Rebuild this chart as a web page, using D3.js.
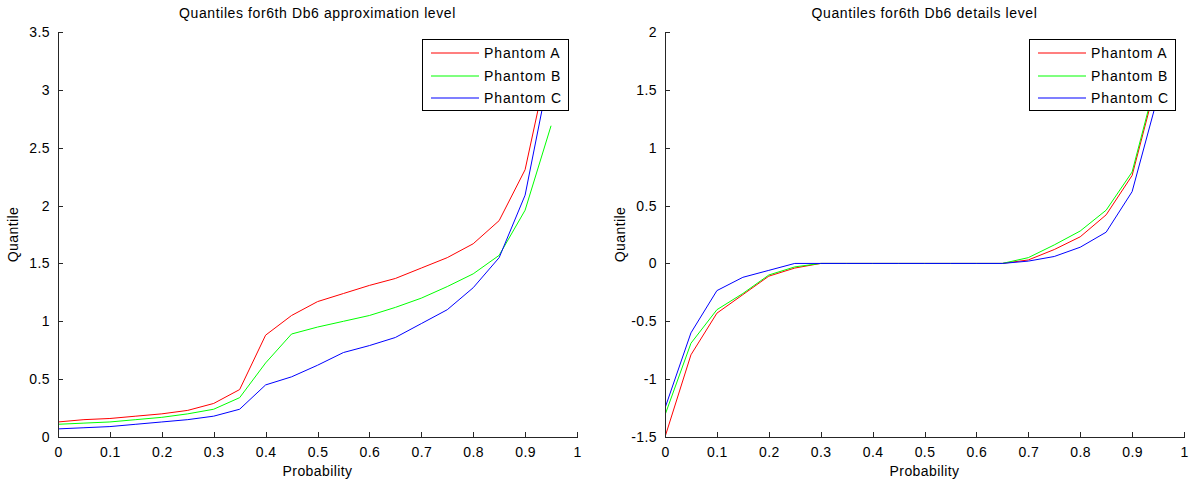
<!DOCTYPE html>
<html><head><meta charset="utf-8">
<script src="https://cdn.jsdelivr.net/npm/d3@7"></script>
<style>
body{margin:0;background:#fff;}
svg text{font-family:"Liberation Sans",Arial,Helvetica,sans-serif;fill:#000;}
</style></head><body>
<svg id="chart" width="1197" height="485"></svg>
<script>
const probability = [0,0.05,0.1,0.15,0.2,0.25,0.3,0.35,0.4,0.45,0.5,0.55,0.6,0.65,0.7,0.75,0.8,0.85,0.9,0.95];
const seriesNames = ["Phantom A","Phantom B","Phantom C"];
const seriesColors = ["#ff0000","#00ff00","#0000ff"];
// approximation level
const approxA = [0.13,0.15,0.16,0.18,0.20,0.23,0.29,0.41,0.88,1.05,1.17,1.24,1.31,1.37,1.46,1.55,1.67,1.87,2.31,3.35];
const approxB = [0.11,0.12,0.13,0.15,0.17,0.20,0.24,0.34,0.64,0.89,0.95,1.00,1.05,1.12,1.20,1.30,1.41,1.57,1.96,2.69];
const approxC = [0.07,0.08,0.09,0.11,0.13,0.15,0.18,0.24,0.45,0.52,0.62,0.73,0.79,0.86,0.98,1.10,1.29,1.55,2.09,3.22];
// details level
const detailA = [-1.50,-0.79,-0.43,-0.27,-0.11,-0.04,0,0,0,0,0,0,0,0,0.03,0.12,0.23,0.42,0.76,1.62];
const detailB = [-1.31,-0.69,-0.40,-0.26,-0.10,-0.03,0,0,0,0,0,0,0,0,0.05,0.16,0.28,0.46,0.79,1.65];
const detailC = [-1.25,-0.60,-0.235,-0.12,-0.06,0,0,0,0,0,0,0,0,0,0.02,0.06,0.14,0.27,0.62,1.45];
const xTicks = [0,0.1,0.2,0.3,0.4,0.5,0.6,0.7,0.8,0.9,1];
const yTicksApprox = [0,0.5,1,1.5,2,2.5,3,3.5];
const yTicksDetail = [-1.5,-1,-0.5,0,0.5,1,1.5,2];

const svg = d3.select("#chart");

function drawPanel(cfg){
  const g = svg.append("g");
  const x = d3.scaleLinear().domain([0,1]).range([cfg.left, cfg.right]);
  const y = d3.scaleLinear().domain(cfg.yDomain).range([cfg.bottom, cfg.top]);
  const clipId = "clip"+cfg.id;
  svg.append("clipPath").attr("id",clipId).append("rect")
    .attr("x",cfg.left).attr("y",cfg.top).attr("width",cfg.right-cfg.left).attr("height",cfg.bottom-cfg.top);

  const line = d3.line().x((d,i)=>x(probability[i])).y(d=>y(d));
  cfg.series.forEach((s,k)=>{
    g.append("path").attr("d",line(s)).attr("fill","none")
      .attr("stroke",seriesColors[k]).attr("stroke-width",1)
      .attr("clip-path",`url(#${clipId})`);
  });

  const fmt = d=>String(d);
  const xAxis = d3.axisBottom(x).tickValues(xTicks).tickSizeInner(-5).tickSizeOuter(0)
    .tickPadding(10).tickFormat(fmt);
  const gx = g.append("g").attr("transform",`translate(0,${cfg.bottom})`).call(xAxis);
  const yAxis = d3.axisLeft(y).tickValues(cfg.yTicks).tickSizeInner(-5).tickSizeOuter(0)
    .tickPadding(8).tickFormat(fmt);
  const gy = g.append("g").attr("transform",`translate(${cfg.left},0)`).call(yAxis);
  [gx,gy].forEach(a=>{
    a.selectAll("path").attr("stroke","#262626").attr("shape-rendering","crispEdges");
    a.selectAll("line").attr("stroke","#262626").attr("shape-rendering","crispEdges");
    a.selectAll("text").style("font-family","'Liberation Sans',Arial,sans-serif")
      .style("font-size","14px").style("letter-spacing","0.4px").attr("fill","#000");
  });

  g.append("text").attr("x",(cfg.left+cfg.right)/2).attr("y",18).attr("text-anchor","middle")
    .style("font-size","14px").style("letter-spacing","0.6px").text(cfg.title);
  g.append("text").attr("x",(cfg.left+cfg.right)/2).attr("y",476).attr("text-anchor","middle")
    .style("font-size","14px").style("letter-spacing","0.4px").text("Probability");
  g.append("text").attr("transform",`translate(${cfg.left-40},${(cfg.top+cfg.bottom)/2}) rotate(-90)`)
    .attr("text-anchor","middle").style("font-size","14px").style("letter-spacing","0.4px").text("Quantile");

  // legend
  const lw = 146, lh = 71;
  const lx = cfg.right - 9 - lw, ly = cfg.top + 7;
  const lg = g.append("g");
  lg.append("rect").attr("x",lx+0.5).attr("y",ly+0.5).attr("width",lw).attr("height",lh)
    .attr("fill","#fff").attr("stroke","#000").attr("stroke-width",1).attr("shape-rendering","crispEdges");
  seriesNames.forEach((n,k)=>{
    const cy = Math.round(ly + 14 + k*22.5);
    lg.append("line").attr("x1",lx+9).attr("x2",lx+57).attr("y1",cy).attr("y2",cy)
      .attr("stroke",seriesColors[k]).attr("stroke-width",1.2);
    lg.append("text").attr("x",lx+62).attr("y",cy+5).style("font-size","14px")
      .style("letter-spacing","0.9px").text(n);
  });
}

drawPanel({id:"a", left:58, right:577, top:32, bottom:437, yDomain:[0,3.5], yTicks:yTicksApprox,
  title:"Quantiles for6th Db6 approximation level", series:[approxA,approxB,approxC]});
drawPanel({id:"b", left:665, right:1184, top:32, bottom:437, yDomain:[-1.5,2], yTicks:yTicksDetail,
  title:"Quantiles for6th Db6 details level", series:[detailA,detailB,detailC]});
</script>
</body></html>
